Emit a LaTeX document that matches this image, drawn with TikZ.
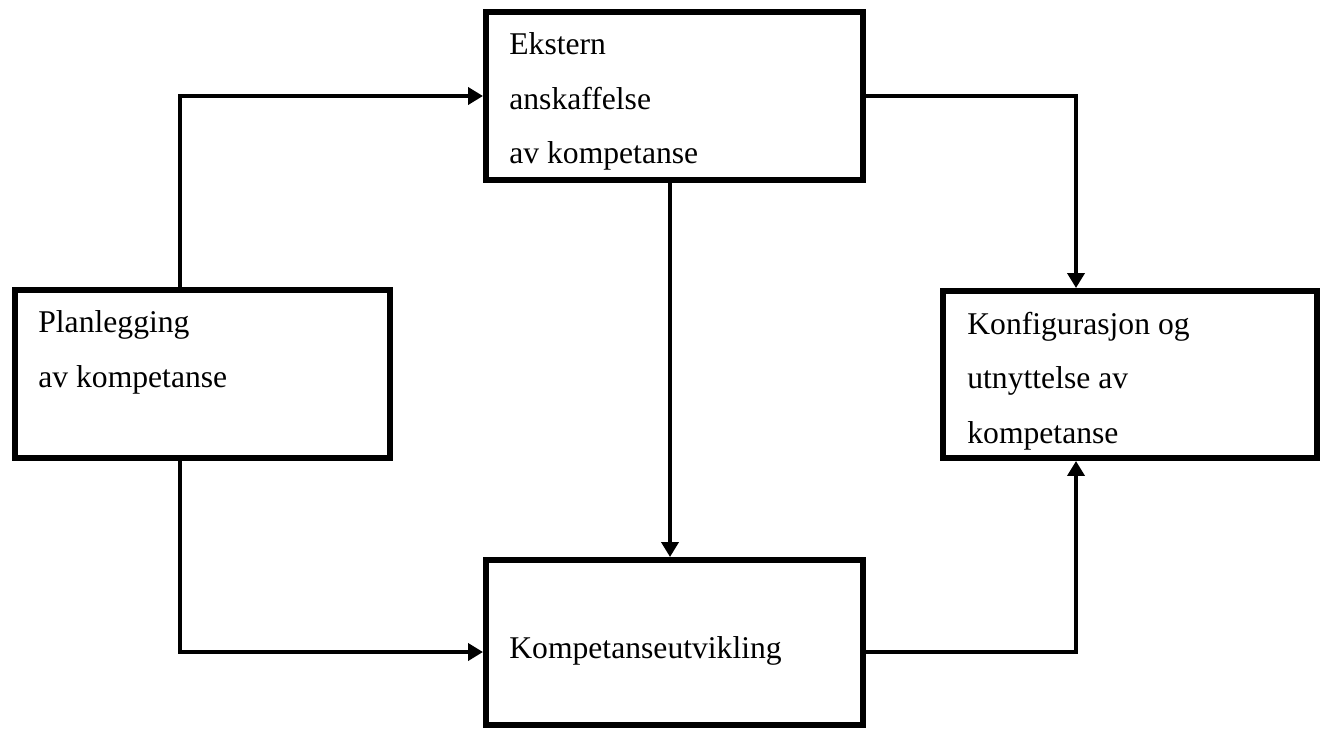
\documentclass[tikz,border=0pt]{standalone}
\usepackage{fontspec}
\setmainfont{Liberation Serif}
\usetikzlibrary{arrows.meta,positioning,calc}

\begin{document}
\begin{tikzpicture}[>={Triangle[length=3mm,width=3.4mm]}]
    \tikzstyle{box} = [rectangle, draw, line width=3.4pt, inner sep=0pt]
    \tikzstyle{txt} = [anchor=north west, inner sep=0pt, align=left, font=\fontsize{18}{31}\selectfont]
    \tikzstyle{link} = [line width=2.8pt, ->]

    \useasboundingbox (0,0) rectangle (26.54,-14.58);

    % Bokser
    \node[box, minimum width=7.5cm, minimum height=3.36cm] (plan) at (4.05,-7.48) {};
    \node[box, minimum width=7.54cm, minimum height=3.36cm] (ekst) at (13.49,-1.92) {};
    \node[box, minimum width=7.54cm, minimum height=3.3cm] (utv) at (13.49,-12.85) {};
    \node[box, minimum width=7.48cm, minimum height=3.34cm] (konf) at (22.6,-7.49) {};

    % Tekst
    \node[txt] (plantxt) at ($(plan.north west)+(0.52,-0.47)$) {Planlegging\\av kompetanse};
    \node[txt] (eksttxt) at ($(ekst.north west)+(0.52,-0.47)$) {Ekstern\\anskaffelse\\av kompetanse};
    \node[txt] (utvtxt) at ($(utv.north west)+(0.52,-1.58)$) {Kompetanseutvikling};
    \node[txt] (konftxt) at ($(konf.north west)+(0.54,-0.47)$) {Konfigurasjon og\\utnyttelse av\\kompetanse};

    % Piler
    \draw[link] ([xshift=-0.45cm]plan.north) |- (ekst.west);
    \draw[link] ([xshift=-0.45cm]plan.south) |- ([yshift=-0.19cm]utv.west);
    \draw[link] ([xshift=-0.09cm]ekst.south) -- ([xshift=-0.09cm]utv.north);
    \draw[link] (ekst.east) -| ([xshift=-1.08cm]konf.north);
    \draw[link] ([yshift=-0.19cm]utv.east) -| ([xshift=-1.08cm]konf.south);
\end{tikzpicture}
\end{document}
